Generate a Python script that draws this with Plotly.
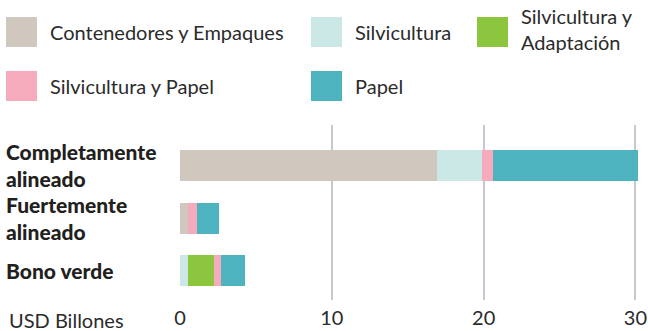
import plotly.graph_objects as go

# Categories (top to bottom) and stacked segment values, USD billions
categories = ["Completamente<br>alineado", "Fuertemente<br>alineado", "Bono verde"]
series_names = ["Contenedores y Empaques", "Silvicultura", "Silvicultura y<br>Adaptación",
                "Silvicultura y Papel", "Papel"]
contenedores = [16.9, 0.5, 0.0]
silvicultura = [3.0, 0.0, 0.5]
silv_adaptacion = [0.0, 0.0, 1.75]
silv_papel = [0.7, 0.6, 0.45]
papel = [9.6, 1.45, 1.6]
x_ticks = [0, 10, 20, 30]
axis_title = "USD Billones"

colors = ["#d0c8bf", "#cbe8e6", "#8cc63f", "#f5abbb", "#4db3be"]
series_values = [contenedores, silvicultura, silv_adaptacion, silv_papel, papel]

W, H = 648, 331
ML, MR, MT, MB = 180, 8, 125, 31
PW, PH = W - ML - MR, H - MT - MB
TEXT = "#2b2b2b"
FONT = "Lato"
FS = 20
Y_TOP, Y_BOT = -0.77, 2.56   # category-axis range (reversed)


def px_x(p):
    return (p - ML) / PW


def px_y(p):
    return (H - MB - p) / PH


def cat_px(i):
    # pixel row of category index i
    return MT + (i - Y_TOP) / (Y_BOT - Y_TOP) * PH


ypos = list(range(len(categories)))

fig = go.Figure()
for name, vals, col in zip(series_names, series_values, colors):
    fig.add_trace(go.Bar(
        x=vals, y=ypos, orientation="h", name=name,
        marker=dict(color=col, line=dict(width=0)),
        width=0.59, showlegend=False,
    ))

# Category labels, left aligned beside each bar
for i, cat in enumerate(categories):
    fig.add_annotation(
        x=px_x(5), xref="paper", y=px_y(cat_px(i)), yref="paper",
        text=cat, showarrow=False, xanchor="left",
        yanchor="middle", align="left", borderpad=0,
        font=dict(family=FONT, size=21, weight=900, color="#231f20"),
    )

# Axis unit label on the tick-label row
fig.add_annotation(
    x=px_x(7), xref="paper", y=px_y(319.5), yref="paper", text=axis_title,
    showarrow=False, xanchor="left", yanchor="middle",
    font=dict(family=FONT, size=FS, color=TEXT),
)

# Custom legend: square swatches and labels
legend_slots = [(6, 32), (311, 32), (477, 32), (6, 86), (311, 86)]
for name, col, (lx, ly) in zip(series_names, colors, legend_slots):
    fig.add_shape(
        type="rect", xref="paper", yref="paper",
        x0=px_x(lx), x1=px_x(lx + 31), y0=px_y(ly - 15), y1=px_y(ly + 15),
        fillcolor=col, line=dict(width=0),
    )
    ty = ly - 3 if "<br>" in name else ly
    fig.add_annotation(
        x=px_x(lx + 42), xref="paper", y=px_y(ty), yref="paper", text=name,
        showarrow=False, xanchor="left", yanchor="middle", align="left",
        font=dict(family=FONT, size=FS, color=TEXT),
    )

fig.update_layout(
    width=W, height=H, barmode="stack",
    margin=dict(l=ML, r=MR, t=MT, b=MB, pad=0),
    paper_bgcolor="white", plot_bgcolor="white",
    xaxis=dict(
        range=[0, 30.3], tickvals=x_ticks, showgrid=True, gridcolor="#c9c8d2",
        gridwidth=2, zeroline=False, showline=False, ticks="",
        tickfont=dict(family=FONT, size=FS, color=TEXT), ticklabelstandoff=4,
        automargin=False, fixedrange=True,
    ),
    yaxis=dict(
        range=[Y_BOT, Y_TOP], showticklabels=False, showgrid=False,
        zeroline=False, showline=False, fixedrange=True, automargin=False,
    ),
    showlegend=False,
)

fig.write_html("out.html", config={"displayModeBar": False})
